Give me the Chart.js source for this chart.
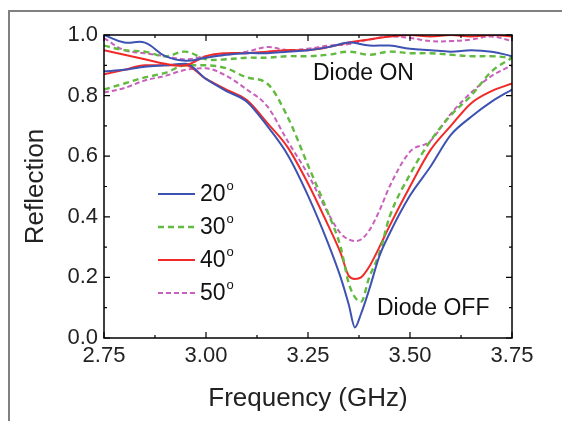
<!DOCTYPE html>
<html>
<head>
<meta charset="utf-8">
<script src="https://cdn.jsdelivr.net/npm/chart.js@4/dist/chart.umd.min.js"></script>
<style>
  body { margin: 0; background: #fff; }
  #wrap { width: 562px; height: 421px; }
</style>
</head>
<body>
<div id="wrap"><canvas id="grafico" width="562" height="421"></canvas></div>
<script>
// frequencies (GHz)
const freqOn = [2.75, 2.80, 2.85, 2.90, 2.95, 3.00, 3.05, 3.10, 3.15, 3.20, 3.25,
                3.30, 3.35, 3.40, 3.45, 3.50, 3.55, 3.60, 3.65, 3.70, 3.75];
const freqOff = [2.75, 2.80, 2.85, 2.90, 2.95, 3.00, 3.05, 3.10, 3.15, 3.20, 3.25,
                 3.30, 3.33, 3.35, 3.365, 3.38, 3.40, 3.425, 3.45, 3.50, 3.55,
                 3.60, 3.65, 3.70, 3.75];

// Diode ON
const on20 = [1.0, 0.975, 0.975, 0.93, 0.915, 0.925, 0.935, 0.94, 0.94, 0.945, 0.95,
              0.96, 0.975, 0.965, 0.965, 0.955, 0.95, 0.945, 0.95, 0.945, 0.93];
const on30 = [0.965, 0.95, 0.945, 0.93, 0.945, 0.92, 0.92, 0.925, 0.925, 0.93, 0.93,
              0.935, 0.945, 0.935, 0.945, 0.94, 0.94, 0.935, 0.93, 0.93, 0.925];
const on40 = [0.95, 0.935, 0.92, 0.905, 0.90, 0.93, 0.94, 0.94, 0.945, 0.95, 0.95,
              0.96, 0.975, 0.985, 0.995, 1.0, 0.995, 1.0, 0.995, 1.0, 0.995];
const on50 = [0.99, 0.95, 0.94, 0.93, 0.92, 0.93, 0.935, 0.945, 0.96, 0.95, 0.955,
              0.965, 0.97, 0.985, 0.995, 0.99, 0.98, 0.98, 0.985, 0.995, 0.98];

// Diode OFF
const off20 = [0.88, 0.885, 0.895, 0.90, 0.905, 0.855, 0.815, 0.78, 0.70, 0.605, 0.47,
               0.31, 0.20, 0.11, 0.035, 0.08, 0.16, 0.27, 0.345, 0.47, 0.565,
               0.67, 0.73, 0.78, 0.82];
const off30 = [0.82, 0.84, 0.86, 0.875, 0.90, 0.90, 0.89, 0.86, 0.84, 0.73, 0.57,
               0.41, 0.30, 0.18, 0.135, 0.12, 0.20, 0.28, 0.40, 0.54, 0.65,
               0.735, 0.80, 0.88, 0.925];
const off40 = [0.87, 0.885, 0.90, 0.90, 0.90, 0.855, 0.82, 0.785, 0.71, 0.63, 0.51,
               0.37, 0.28, 0.205, 0.195, 0.20, 0.235, 0.30, 0.37, 0.50, 0.62,
               0.70, 0.775, 0.815, 0.84];
const off50 = [0.81, 0.825, 0.85, 0.865, 0.885, 0.89, 0.865, 0.82, 0.765, 0.65, 0.54,
               0.41, 0.345, 0.325, 0.32, 0.325, 0.355, 0.42, 0.50, 0.615, 0.65,
               0.74, 0.81, 0.865, 0.90];

const legendLabels = ["20", "30", "40", "50"];
const xTicks = [2.75, 3.00, 3.25, 3.50, 3.75];
const yTicks = [0.0, 0.2, 0.4, 0.6, 0.8, 1.0];

const cores = ["rgb(62,82,178)", "rgb(98,186,64)", "rgb(240,42,40)", "rgb(200,96,188)"];
const tracos = [[], [6, 4], [], [5, 3]];
const larguras = [2, 2.4, 2, 2];

const pontos = (xs, ys) => xs.map((x, i) => ({ x: x, y: ys[i] }));

const onSeries = [on20, on30, on40, on50];
const offSeries = [off20, off30, off40, off50];

const datasets = [];
onSeries.forEach((s, i) => {
  datasets.push({
    label: legendLabels[i] + " ON",
    data: pontos(freqOn, s),
    borderColor: cores[i],
    borderDash: tracos[i],
    borderWidth: larguras[i],
    pointRadius: 0,
    tension: 0.4,
    fill: false
  });
});
offSeries.forEach((s, i) => {
  datasets.push({
    label: legendLabels[i] + " OFF",
    data: pontos(freqOff, s),
    borderColor: cores[i],
    borderDash: tracos[i],
    borderWidth: larguras[i],
    pointRadius: 0,
    cubicInterpolationMode: "monotone",
    fill: false
  });
});

// moldura, ticks internos, legenda e textos
const extras = {
  id: "extras",
  afterDraw(chart) {
    const { ctx, chartArea: a, scales } = chart;
    const xs = scales.x, ys = scales.y;
    ctx.save();

    // moldura cinza da figura
    ctx.fillStyle = "#808080";
    ctx.fillRect(8, 10, 554, 2);
    ctx.fillRect(8, 10, 2, 411);

    // caixa do gráfico
    ctx.strokeStyle = "#000";
    ctx.lineWidth = 1.5;
    ctx.setLineDash([]);
    ctx.strokeRect(a.left, a.top, a.right - a.left, a.bottom - a.top);

    // ticks para dentro
    ctx.lineWidth = 1.2;
    ctx.beginPath();
    for (let k = 0; k <= 8; k++) {
      const v = 2.75 + k * 0.125;
      const px = xs.getPixelForValue(v);
      const len = k % 2 === 0 ? 6 : 3;
      ctx.moveTo(px, a.bottom); ctx.lineTo(px, a.bottom - len);
      ctx.moveTo(px, a.top); ctx.lineTo(px, a.top + len);
    }
    for (let k = 0; k <= 10; k++) {
      const py = ys.getPixelForValue(k * 0.1);
      const len = k % 2 === 0 ? 6 : 3;
      ctx.moveTo(a.left, py); ctx.lineTo(a.left + len, py);
      ctx.moveTo(a.right, py); ctx.lineTo(a.right - len, py);
    }
    ctx.stroke();

    // legenda
    const linhasY = [194, 227, 260, 293];
    linhasY.forEach((y, i) => {
      ctx.strokeStyle = cores[i];
      ctx.lineWidth = larguras[i];
      ctx.setLineDash(tracos[i]);
      ctx.beginPath();
      ctx.moveTo(158, y); ctx.lineTo(195, y);
      ctx.stroke();
      ctx.setLineDash([]);
      ctx.fillStyle = "#111";
      ctx.font = "23px 'Liberation Sans', Arial, sans-serif";
      ctx.textAlign = "left";
      ctx.textBaseline = "middle";
      ctx.fillText(legendLabels[i], 200, y + 1);
      const w = ctx.measureText(legendLabels[i]).width;
      ctx.font = "13px 'Liberation Sans', Arial, sans-serif";
      ctx.fillText("o", 200 + w + 1, y - 8);
    });

    // anotações
    ctx.fillStyle = "#111";
    ctx.font = "23px 'Liberation Sans', Arial, sans-serif";
    ctx.textAlign = "left";
    ctx.textBaseline = "middle";
    ctx.fillText("Diode ON", 313, 74);
    ctx.fillText("Diode OFF", 377, 309);

    ctx.restore();
  }
};

const fonteTicks = { family: "'Liberation Sans', Arial, sans-serif", size: 22 };
const fonteTitulo = { family: "'Liberation Sans', Arial, sans-serif", size: 26 };

new Chart(document.getElementById("grafico"), {
  type: "line",
  data: { datasets: datasets },
  options: {
    responsive: false,
    animation: false,
    events: [],
    layout: { padding: { left: 0, top: 35, right: 50, bottom: 0 } },
    scales: {
      x: {
        type: "linear",
        min: 2.75,
        max: 3.75,
        afterBuildTicks: (s) => { s.ticks = xTicks.map(v => ({ value: v })); },
        afterFit: (s) => { s.height = 83; },
        grid: { display: false, drawTicks: false },
        border: { display: false },
        ticks: {
          padding: 5,
          color: "#222",
          font: fonteTicks,
          maxRotation: 0,
          callback: (v) => Number(v).toFixed(2)
        },
        title: {
          display: true,
          text: "Frequency (GHz)",
          color: "#222",
          font: fonteTitulo,
          padding: { top: 0, bottom: 7 }
        }
      },
      y: {
        min: 0,
        max: 1,
        afterBuildTicks: (s) => { s.ticks = yTicks.map(v => ({ value: v })); },
        afterFit: (s) => { s.width = 104; },
        grid: { display: false, drawTicks: false },
        border: { display: false },
        ticks: {
          padding: 6,
          color: "#222",
          font: fonteTicks,
          callback: (v) => Number(v).toFixed(1)
        },
        title: {
          display: true,
          text: "Reflection",
          color: "#222",
          font: fonteTitulo,
          padding: { top: 20, bottom: 0 }
        }
      }
    },
    plugins: {
      legend: { display: false },
      tooltip: { enabled: false }
    }
  },
  plugins: [extras]
});
</script>
</body>
</html>
